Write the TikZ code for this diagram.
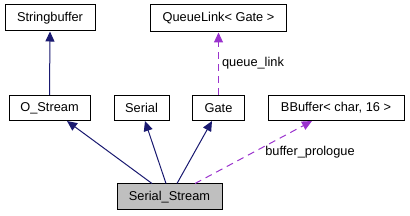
\documentclass[tikz,border=0pt]{standalone}
\usepackage{fontspec}
\setmainfont{Liberation Sans}
\usetikzlibrary{arrows.meta}
\definecolor{edgeblue}{HTML}{191970}
\definecolor{usepurple}{HTML}{9A32CD}
\definecolor{curgray}{HTML}{BFBFBF}
\begin{document}
\begin{tikzpicture}[x=1pt,y=-1pt,
  box/.style={draw=black,line width=1pt,fill=white,inner sep=0pt,minimum height=25pt,font=\fontsize{12.8}{15}\selectfont},
  lbl/.style={inner sep=0pt,font=\fontsize{12.8}{15}\selectfont},
  inherit/.style={draw=edgeblue,line width=1pt,-{Triangle[length=10pt,width=9pt]}},
  usage/.style={draw=usepurple,line width=1pt,dash pattern=on 7pt off 5pt,-{Triangle[length=10pt,width=9pt]}}]
\useasboundingbox (0,0) rectangle (410,216);
\node[box,minimum width=90pt,minimum height=26pt] (sb) at (50,18) {Stringbuffer};
\node[box,minimum width=136pt,minimum height=27pt] (ql) at (218.5,18.5) {QueueLink< Gate >};
\node[box,minimum width=81pt] (os) at (49.5,108) {O\_Stream};
\node[box,minimum width=55pt] (se) at (141.5,108) {Serial};
\node[box,minimum width=52pt] (ga) at (218.5,108) {Gate};
\node[box,minimum width=136pt] (bb) at (336,108) {BBuffer< char, 16 >};
\node[box,minimum width=105pt,minimum height=26pt,fill=curgray] (ss) at (169.5,197) {Serial\_Stream};
\draw[inherit] (os.north) -- (sb.south);
\draw[usage] (ga.north) -- (ql.south);
\node[lbl] (qll) at (253,63) {queue\_link};
\draw[inherit] ([xshift=-17.5pt]ss.north) -- ([xshift=17.5pt]os.south);
\draw[inherit] ([xshift=-3.5pt]ss.north) -- ([xshift=3.5pt]se.south);
\draw[inherit] ([xshift=7.5pt]ss.north) -- ([xshift=-6.5pt]ga.south);
\draw[usage] ([xshift=25.5pt]ss.north) -- ([xshift=-24pt]bb.south);
\node[lbl] (bpl) at (310,152) {buffer\_prologue};
\end{tikzpicture}
\end{document}
